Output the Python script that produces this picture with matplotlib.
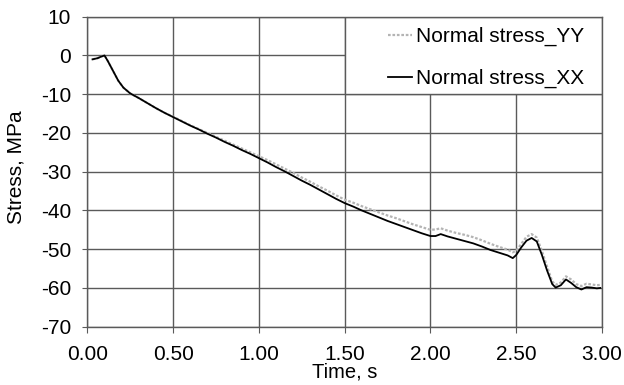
import numpy as np
import matplotlib.pyplot as plt
from matplotlib.patches import Rectangle

plt.rcParams['font.family'] = ['Liberation Sans', 'DejaVu Sans']
plt.rcParams['axes.unicode_minus'] = False

# time, s
t = [0.03, 0.06, 0.08, 0.10, 0.12, 0.15, 0.18, 0.21, 0.25, 0.30,
     0.35, 0.40, 0.45, 0.50, 0.55, 0.60, 0.65, 0.70, 0.75, 0.80,
     0.85, 0.90, 0.95, 1.00, 1.05, 1.10, 1.15, 1.20, 1.25, 1.30,
     1.35, 1.40, 1.45, 1.50, 1.55, 1.60, 1.65, 1.70, 1.75, 1.80,
     1.85, 1.90, 1.95, 2.00, 2.03, 2.06, 2.10, 2.15, 2.20, 2.25,
     2.30, 2.35, 2.40, 2.45, 2.48, 2.50, 2.53, 2.56, 2.59, 2.62,
     2.65, 2.68, 2.71, 2.73, 2.76, 2.79, 2.82, 2.85, 2.88, 2.91,
     2.94, 2.97, 2.99]

# normal stress XX, MPa
sxx = [-1.0, -0.7, -0.3, 0.0, -1.5, -4.0, -6.5, -8.3, -9.8, -11.0,
       -12.3, -13.6, -14.8, -15.9, -17.0, -18.1, -19.1, -20.2, -21.2, -22.3,
       -23.3, -24.4, -25.4, -26.5, -27.6, -28.8, -29.9, -31.1, -32.3, -33.4,
       -34.6, -35.8, -37.0, -38.1, -39.0, -40.0, -40.9, -41.8, -42.7, -43.5,
       -44.3, -45.1, -45.9, -46.6, -46.6, -46.1, -46.7, -47.3, -47.9, -48.5,
       -49.3, -50.2, -50.9, -51.6, -52.3, -51.5, -49.5, -47.8, -47.1, -48.0,
       -51.5, -55.5, -59.0, -59.9, -59.3, -57.8, -58.7, -59.8, -60.4, -59.8,
       -59.9, -60.1, -60.0]

# normal stress YY, MPa
syy = [-1.0, -0.7, -0.3, 0.0, -1.5, -4.0, -6.5, -8.3, -9.8, -11.0,
       -12.3, -13.6, -14.8, -15.8, -16.9, -18.0, -19.0, -20.0, -21.0, -22.0,
       -23.0, -24.0, -25.0, -26.0, -27.0, -28.1, -29.2, -30.3, -31.5, -32.6,
       -33.8, -34.9, -36.1, -37.2, -38.0, -38.9, -39.7, -40.5, -41.3, -42.0,
       -42.8, -43.6, -44.3, -45.0, -44.9, -44.6, -45.2, -45.8, -46.3, -46.9,
       -47.7, -48.6, -49.4, -50.1, -50.8, -50.4, -48.6, -46.8, -46.1, -47.0,
       -50.5, -54.5, -58.3, -59.2, -58.6, -57.0, -57.8, -59.0, -59.5, -58.9,
       -59.1, -59.3, -59.2]

xticks = [0.0, 0.5, 1.0, 1.5, 2.0, 2.5, 3.0]
yticks = [-70, -60, -50, -40, -30, -20, -10, 0, 10]

grid_c = '#5a5a5a'

fig = plt.figure(figsize=(6.24, 3.85), dpi=100)
ax = fig.add_axes([0.140, 0.1514, 0.8247, 0.8052])

ax.plot(t, syy, color='#b4b4b4', lw=1.6, ls=(0, (1.2, 0.8)), label='Normal stress_YY', zorder=3)
ax.plot(t, sxx, color='black', lw=1.3, label='Normal stress_XX', zorder=4)

ax.set_xlim(0, 3)
ax.set_ylim(-70, 10)
ax.set_xticks(xticks)
ax.set_xticklabels([f'{v:.2f}' for v in xticks])
ax.set_yticks(yticks)
ax.grid(True, color=grid_c, lw=1.0)
ax.set_axisbelow(True)
for sp in ax.spines.values():
    sp.set_color(grid_c)
    sp.set_linewidth(1.0)
ax.tick_params(axis='x', direction='out', length=4.3, color=grid_c, labelsize=15, pad=9)
ax.tick_params(axis='y', direction='out', length=3.6, color=grid_c, labelsize=15, pad=8)

# white legend panel in the upper right cell block
ax.add_patch(Rectangle((1.5, -10), 1.5, 20, facecolor='white', edgecolor=grid_c,
                       lw=1.0, zorder=2))
leg = ax.legend(loc='upper left', bbox_to_anchor=(388 / 624, 1 - 27 / 385),
                bbox_transform=fig.transFigure, frameon=False, fontsize=15,
                handlelength=1.15, handletextpad=0.2, labelspacing=1.1,
                borderpad=0, borderaxespad=0)
leg.set_zorder(5)

ax.set_xlabel('Time, s', fontsize=14.5)
ax.xaxis.set_label_coords(0.5007, -0.116)
ax.set_ylabel('Stress, MPa', fontsize=15)
ax.yaxis.set_label_coords(-0.121, 0.515)

fig.savefig('out.png', dpi=100)
